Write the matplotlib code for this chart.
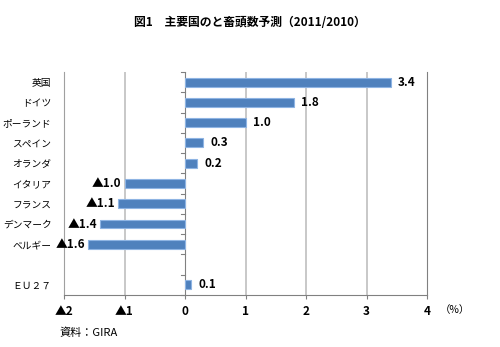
import matplotlib
matplotlib.use("Agg")
import matplotlib.pyplot as plt

plt.rcParams['font.family'] = ['Noto Sans CJK JP', 'DejaVu Sans']

categories = ["英国", "ドイツ", "ポーランド", "スペイン", "オランダ", "イタリア",
              "フランス", "デンマーク", "ベルギー", "", "ＥＵ２７"]
values = [3.4, 1.8, 1.0, 0.3, 0.2, -1.0, -1.1, -1.4, -1.6, None, 0.1]
xticks = [-2, -1, 0, 1, 2, 3, 4]
xticklabels = ["▲2", "▲1", "0", "1", "2", "3", "4"]

fig = plt.figure(figsize=(5.0, 3.47), dpi=100)
ax = fig.add_axes([0.128, 0.150, 0.726, 0.6425])

ys = list(range(len(categories)))
for y, v in zip(ys, values):
    if v is None:
        continue
    ax.barh(y, v, height=0.44, color="#4F81BD", edgecolor="#8EB4E3", linewidth=0.8, zorder=3)
    if v >= 0:
        ax.text(v + 0.12, y, f"{v:.1f}", va="center", ha="left",
                fontsize=8.5, fontweight="bold", color="black")
    else:
        ax.text(v - 0.05, y, f"▲{abs(v):.1f}", va="center", ha="right",
                fontsize=8.5, fontweight="bold", color="black")

ax.set_xlim(-2, 4)
ax.set_ylim(len(categories) - 0.5, -0.5)
ax.set_xticks(xticks)
ax.set_xticklabels(xticklabels, fontsize=8.5, fontweight="bold")
ax.set_yticks(ys)
ax.set_yticklabels(categories, fontsize=7)
ax.tick_params(axis="y", length=0, pad=9)
ax.tick_params(axis="x", length=3, color="#808080", pad=4)

# short tick marks at x=0 between categories (pointing left)
for b in range(len(categories) + 1):
    yb = b - 0.5
    ax.plot([-0.06, 0], [yb, yb], color="#808080", lw=0.8, zorder=2, clip_on=False)

for x in [-1, 1, 2, 3]:
    ax.axvline(x, color="#BFBFBF", lw=1.2, zorder=1)
ax.axvline(0, color="#808080", lw=0.8, zorder=2)

for s in ["top", "right"]:
    ax.spines[s].set_visible(False)
ax.spines["left"].set_color("#A0A0A0")
ax.spines["bottom"].set_color("#808080")
ax.plot([4, 4], [-0.5, len(categories) - 0.5], color="#808080", lw=0.8, clip_on=False, zorder=2)

fig.text(0.5, 0.935, "図1　主要国のと畜頭数予測（2011/2010）", ha="center", va="center",
         fontsize=8.5, fontweight="bold")
fig.text(0.91, 0.107, "（%）", ha="center", va="center", fontsize=7.5)
fig.text(0.118, 0.04, "資料：GIRA", ha="left", va="center", fontsize=8)

fig.savefig("out.png", dpi=100)
